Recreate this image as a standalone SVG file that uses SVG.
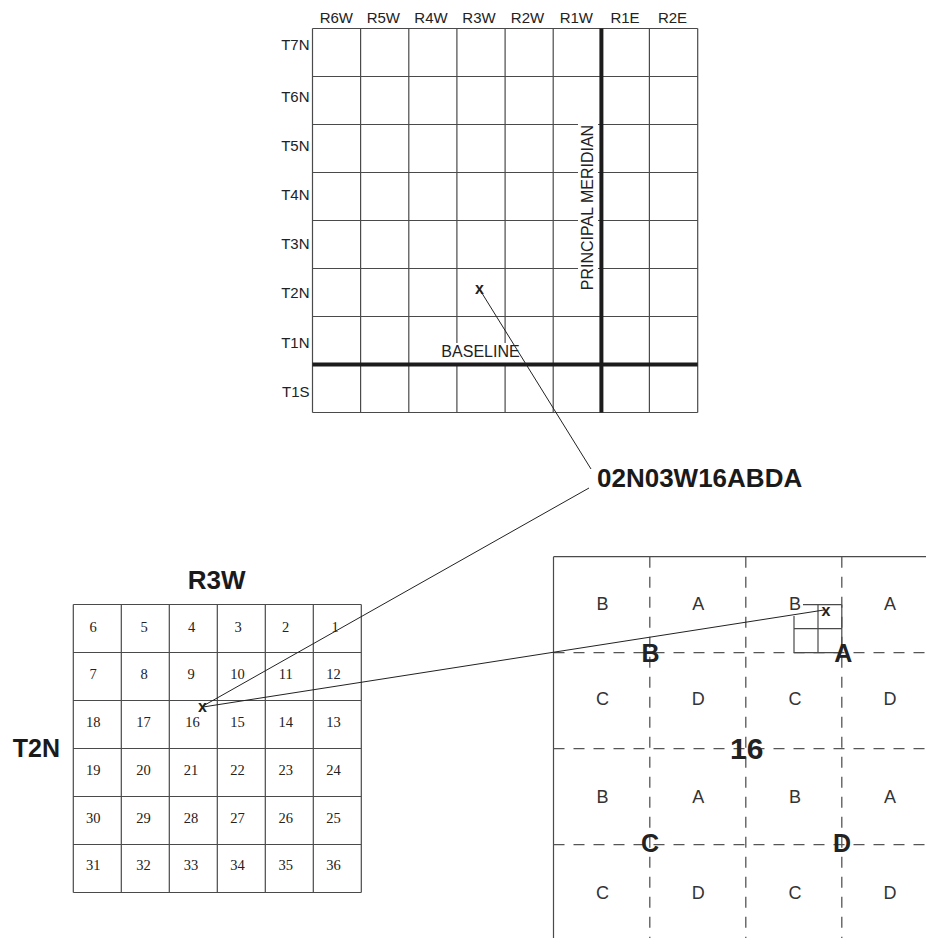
<svg xmlns="http://www.w3.org/2000/svg" width="926" height="938" viewBox="0 0 926 938">
<style>
  .grid { stroke: #4a4a4a; stroke-width: 1.2; fill: none; }
  .thick { stroke: #1c1c1c; stroke-width: 4; fill: none; }
  .dash { stroke: #555; stroke-width: 1.3; stroke-dasharray: 11 9; fill: none; }
  .conn { stroke: #222; stroke-width: 1; fill: none; }
  .lbl { font-family: "Liberation Sans", Arial, sans-serif; font-size: 15px; fill: #222; }
  .num { font-family: "Liberation Serif", "Times New Roman", serif; font-size: 14.5px; fill: #222; text-anchor: middle; }
  .q { font-family: "Liberation Sans", Arial, sans-serif; font-size: 18px; fill: #333; text-anchor: middle; }
  .qb { font-family: "Liberation Sans", Arial, sans-serif; font-size: 25px; font-weight: bold; fill: #222; text-anchor: middle; }
  .xm { font-family: "Liberation Sans", Arial, sans-serif; font-size: 16px; font-weight: bold; fill: #222; text-anchor: middle; }
  .big { font-family: "Liberation Sans", Arial, sans-serif; font-weight: bold; fill: #1a1a1a; }
</style>
<rect width="926" height="938" fill="#ffffff"/>

<g id="township-grid">
  <path class="grid" d="M312.5 28.5V412.5M360.6 28.5V412.5M408.8 28.5V412.5M456.9 28.5V412.5M505.1 28.5V412.5M553.2 28.5V412.5M649.4 28.5V412.5M697.7 28.5V412.5
  M312.5 28.5H697.7M312.5 76.5H697.7M312.5 124.5H697.7M312.5 172.5H697.7M312.5 220.5H697.7M312.5 268.5H697.7M312.5 316.5H697.7M312.5 412.5H697.7"/>
  <rect x="578" y="121" width="20" height="172" fill="#ffffff"/>
  <rect x="441" y="343" width="79" height="20" fill="#ffffff"/>
  <line class="thick" x1="601.4" y1="28.5" x2="601.4" y2="412.5"/>
  <line class="thick" x1="312.5" y1="364.5" x2="697.7" y2="364.5"/>
  <text class="lbl" x="592.7" y="207.5" text-anchor="middle" transform="rotate(-90 592.7 207.5)" style="font-size:16px">PRINCIPAL MERIDIAN</text>
  <text class="lbl" x="480.5" y="357.3" text-anchor="middle" style="font-size:16px">BASELINE</text>
  <g text-anchor="middle">
    <text class="lbl" x="336.3" y="23.3">R6W</text>
    <text class="lbl" x="383.3" y="23.3">R5W</text>
    <text class="lbl" x="431" y="23.3">R4W</text>
    <text class="lbl" x="479" y="23.3">R3W</text>
    <text class="lbl" x="527.5" y="23.3">R2W</text>
    <text class="lbl" x="576.3" y="23.3">R1W</text>
    <text class="lbl" x="625" y="23.3">R1E</text>
    <text class="lbl" x="672.5" y="23.3">R2E</text>
  </g>
  <g text-anchor="end">
    <text class="lbl" x="309.5" y="50.3">T7N</text>
    <text class="lbl" x="309.5" y="102">T6N</text>
    <text class="lbl" x="309.5" y="151">T5N</text>
    <text class="lbl" x="309.5" y="200.3">T4N</text>
    <text class="lbl" x="309.5" y="248.6">T3N</text>
    <text class="lbl" x="309.5" y="298.3">T2N</text>
    <text class="lbl" x="309.5" y="347.6">T1N</text>
    <text class="lbl" x="309.5" y="397">T1S</text>
  </g>
  <text class="xm" x="479.5" y="293.5">x</text>
</g>

<g id="code-label">
  <text class="big" x="597" y="487" style="font-size:26px">02N03W16ABDA</text>
</g>

<g id="section-grid">
  <text class="big" x="216.7" y="589" text-anchor="middle" style="font-size:26px">R3W</text>
  <text class="big" x="60" y="756.7" text-anchor="end" style="font-size:25px">T2N</text>
  <path class="grid" d="M73.3 604.5V892.5M121.3 604.5V892.5M169.3 604.5V892.5M217.3 604.5V892.5M265.3 604.5V892.5M313.3 604.5V892.5M361.3 604.5V892.5
  M73.3 604.5H361.3M73.3 652.5H361.3M73.3 700.5H361.3M73.3 748.5H361.3M73.3 796.5H361.3M73.3 844.5H361.3M73.3 892.5H361.3"/>
  <text class="num" x="93" y="631.5">6</text><text class="num" x="144" y="631.5">5</text><text class="num" x="191.5" y="631.5">4</text><text class="num" x="238" y="631.5">3</text><text class="num" x="285.7" y="631.5">2</text><text class="num" x="335" y="631.5">1</text>
  <text class="num" x="93" y="679">7</text><text class="num" x="144" y="679">8</text><text class="num" x="191" y="679">9</text><text class="num" x="237.5" y="679">10</text><text class="num" x="285.7" y="679">11</text><text class="num" x="333.5" y="679">12</text>
  <text class="num" x="93.3" y="726.5">18</text><text class="num" x="143.5" y="726.5">17</text><text class="num" x="192.5" y="726.5">16</text><text class="num" x="237.5" y="726.5">15</text><text class="num" x="285.7" y="726.5">14</text><text class="num" x="333.5" y="726.5">13</text>
  <text class="num" x="93.3" y="774.5">19</text><text class="num" x="143.5" y="774.5">20</text><text class="num" x="191" y="774.5">21</text><text class="num" x="237.5" y="774.5">22</text><text class="num" x="285.7" y="774.5">23</text><text class="num" x="333.5" y="774.5">24</text>
  <text class="num" x="93.3" y="822.5">30</text><text class="num" x="143.5" y="822.5">29</text><text class="num" x="191" y="822.5">28</text><text class="num" x="237.5" y="822.5">27</text><text class="num" x="285.7" y="822.5">26</text><text class="num" x="333.5" y="822.5">25</text>
  <text class="num" x="93.3" y="870">31</text><text class="num" x="143.5" y="870">32</text><text class="num" x="191" y="870">33</text><text class="num" x="237.5" y="870">34</text><text class="num" x="285.7" y="870">35</text><text class="num" x="333.5" y="870">36</text>
  <text class="xm" x="202.5" y="711.5">x</text>
</g>

<g id="section-16">
  <path class="grid" d="M553.5 556.7V938M553.5 556.7H926"/>
  <path class="dash" d="M649.8 556.7V938M745.8 556.7V938M841.8 556.7V938M553.5 652.7H926M553.5 748.7H926M553.5 844.7H926"/>
  <path class="grid" d="M803 604.7H841.8M794 628.7H841.8M794 652.7H841.8M818 604.7V652.7M794 616V652.7M841.8 604.7V652.7"/>
  <text class="q" x="602.5" y="610">B</text><text class="q" x="698.3" y="610">A</text><text class="q" x="795" y="610">B</text><text class="q" x="890" y="610">A</text>
  <text class="q" x="602.5" y="705">C</text><text class="q" x="698.3" y="705">D</text><text class="q" x="795" y="705">C</text><text class="q" x="890" y="705">D</text>
  <text class="q" x="602.5" y="803">B</text><text class="q" x="698.3" y="803">A</text><text class="q" x="795" y="803">B</text><text class="q" x="890" y="803">A</text>
  <text class="q" x="602.5" y="899">C</text><text class="q" x="698.3" y="899">D</text><text class="q" x="795" y="899">C</text><text class="q" x="890" y="899">D</text>
  <text class="qb" x="650.5" y="661.5">B</text>
  <text class="qb" x="843.3" y="661.5">A</text>
  <text class="qb" x="650" y="852">C</text>
  <text class="qb" x="842" y="852">D</text>
  <text class="qb" x="746.7" y="759.3" style="font-size:30px">16</text>
  <text class="xm" x="826" y="616">x</text>
</g>

<g id="connectors">
  <line class="conn" x1="480" y1="290" x2="591" y2="469"/>
  <line class="conn" x1="589" y1="488" x2="203" y2="706"/>
  <line class="conn" x1="203" y1="707" x2="824" y2="610"/>
</g>
</svg>
